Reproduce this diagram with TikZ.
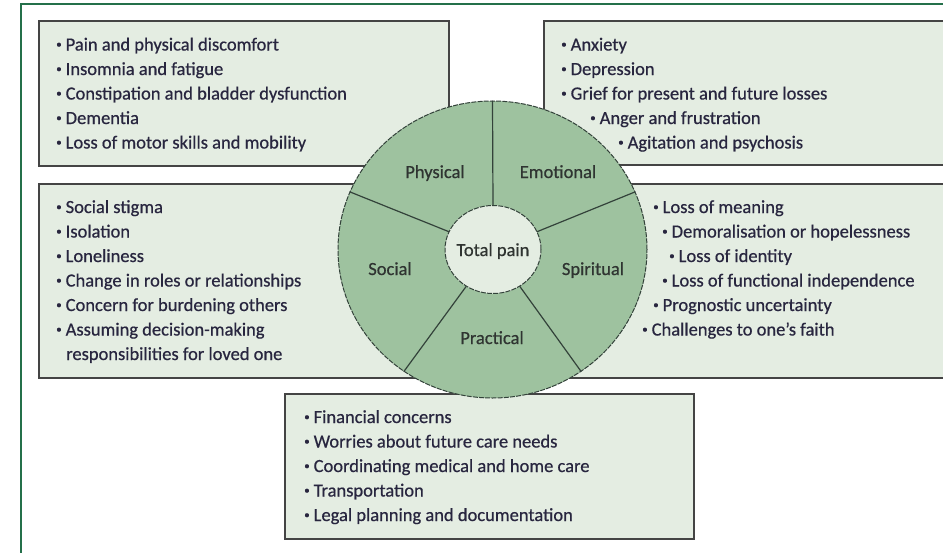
\documentclass[tikz,border=0pt]{standalone}
\usepackage{fontspec}
\usepackage{graphicx}
\setmainfont{Carlito}[FakeBold=0.6]
\usetikzlibrary{shapes.geometric}
\definecolor{framecol}{HTML}{24704A}
\definecolor{boxfill}{HTML}{E4EDE2}
\definecolor{boxline}{HTML}{444444}
\definecolor{wedge}{HTML}{9EC29F}
\definecolor{ringline}{HTML}{33423A}
\definecolor{txt}{HTML}{28263F}
\definecolor{lbl}{HTML}{2F3431}
\newcommand\bul{\makebox[9.5pt][l]{\raisebox{0.3ex}{\scalebox{0.6}{•}}}}
\tikzset{
  item/.style={anchor=base west, inner sep=0pt, font=\fontsize{18.5}{24}\selectfont, text=txt},
  seglabel/.style={anchor=base, inner sep=0pt, font=\fontsize{18.5}{24}\selectfont, text=lbl},
  panel/.style={draw=boxline, line width=1.6pt, fill=boxfill, rectangle, anchor=north west, inner sep=0pt},
  divider/.style={draw=ringline, line width=1.2pt},
  framestyle/.style={draw=framecol, line width=1.5pt}
}
\begin{document}
\begin{tikzpicture}[x=1pt,y=-1pt]
\useasboundingbox (0,0) rectangle (943,552);
\fill[white] (0,0) rectangle (943,552);
% outer frame
\coordinate (f1) at (21,560);
\coordinate (f2) at (21,4);
\coordinate (f3) at (950,4);
\draw[framestyle] (f1) -- (f2) -- (f3);
% panels
\node[panel, minimum width=410pt, minimum height=145pt] (bphys) at (38,20) {};
\node[panel, minimum width=420pt, minimum height=144pt] (bemo) at (543,20) {};
\node[panel, minimum width=925pt, minimum height=194pt] (bmid) at (38,183) {};
\node[panel, minimum width=409pt, minimum height=145pt] (bprac) at (284,393) {};
% physical
\node[item] (p1) at (56,50.5) {\bul Pain and physical discomfort};
\node[item] (p2) at (56,75) {\bul Insomnia and fatigue};
\node[item] (p3) at (56,99.5) {\bul Constipation and bladder dysfunction};
\node[item] (p4) at (56,124) {\bul Dementia};
\node[item] (p5) at (56,148.5) {\bul Loss of motor skills and mobility};
% emotional
\node[item] (e1) at (561,50.5) {\bul Anxiety};
\node[item] (e2) at (561,75) {\bul Depression};
\node[item] (e3) at (561,99.5) {\bul Grief for present and future losses};
\node[item] (e4) at (590,124) {\bul Anger and frustration};
\node[item] (e5) at (618,148.5) {\bul Agitation and psychosis};
% social
\node[item] (s1) at (56,213) {\bul Social stigma};
\node[item] (s2) at (56,237.5) {\bul Isolation};
\node[item] (s3) at (56,262) {\bul Loneliness};
\node[item] (s4) at (56,286.5) {\bul Change in roles or relationships};
\node[item] (s5) at (56,311) {\bul Concern for burdening others};
\node[item] (s6) at (56,335.5) {\bul Assuming decision-making};
\node[item] (s7) at (66,360) {responsibilities for loved one};
% spiritual
\node[item] (r1) at (653,213) {\bul Loss of meaning};
\node[item] (r2) at (662,237.5) {\bul Demoralisation or hopelessness};
\node[item] (r3) at (669,262) {\bul Loss of identity};
\node[item] (r4) at (662,286.5) {\bul Loss of functional independence};
\node[item] (r5) at (653,311) {\bul Prognostic uncertainty};
\node[item] (r6) at (642,335.5) {\bul Challenges to one’s faith};
% practical
\node[item] (q1) at (304,423) {\bul Financial concerns};
\node[item] (q2) at (304,447.5) {\bul Worries about future care needs};
\node[item] (q3) at (304,472) {\bul Coordinating medical and home care};
\node[item] (q4) at (304,496.5) {\bul Transportation};
\node[item] (q5) at (304,521) {\bul Legal planning and documentation};
% wheel
\node[ellipse, draw=ringline, line width=1pt, dash pattern=on 5pt off 1.2pt, fill=wedge,
      minimum width=309pt, minimum height=297pt, inner sep=0pt] (ring) at (492.5,249.5) {};
\node[ellipse, fill=boxfill, minimum width=96pt, minimum height=88pt, inner sep=0pt] (core) at (493,249.5) {};
\foreach \a in {90,22,-54,-126,158} \draw[divider] (core.\a) -- (ring.\a);
\node[ellipse, draw=ringline, line width=1pt, dash pattern=on 5pt off 1.2pt, fill=boxfill,
      minimum width=96pt, minimum height=88pt, inner sep=0pt] (core2) at (core.center) {};
\node[seglabel] (tp) at (493,256) {Total pain};
\node[seglabel] (lphys) at (435,178) {Physical};
\node[seglabel] (lemo) at (558,178) {Emotional};
\node[seglabel] (lsoc) at (390,275) {Social};
\node[seglabel] (lspi) at (593,275) {Spiritual};
\node[seglabel] (lpra) at (492,344) {Practical};
\end{tikzpicture}
\end{document}
